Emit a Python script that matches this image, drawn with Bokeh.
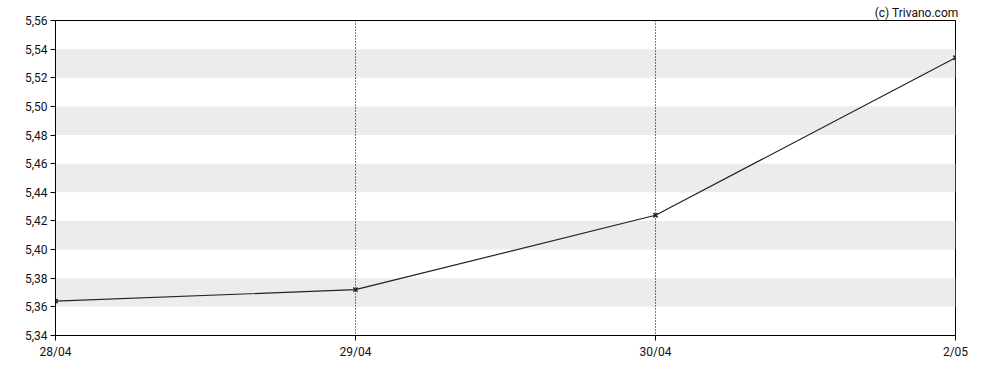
from bokeh.plotting import figure
from bokeh.models import FixedTicker, CustomJSTickFormatter, BoxAnnotation, Span
from bokeh.embed import file_html
from bokeh.resources import INLINE

dates = ["28/04", "29/04", "30/04", "2/05"]
prices = [5.364, 5.372, 5.424, 5.534]
y_ticks = [5.34, 5.36, 5.38, 5.40, 5.42, 5.44, 5.46, 5.48, 5.50, 5.52, 5.54, 5.56]
credit = "(c) Trivano.com"

xs = list(range(len(dates)))

p = figure(width=988, height=370, output_backend="svg", toolbar_location=None,
           x_range=(xs[0], xs[-1]), y_range=(y_ticks[0], y_ticks[-1]),
           min_border_left=55, min_border_right=33, min_border_top=20, min_border_bottom=35,
           title=credit)
p.background_fill_color = "white"
p.border_fill_color = "white"
p.outline_line_color = "black"
p.outline_line_width = 1

p.title.align = "right"
p.title.text_font = "Roboto"
p.title.text_font_style = "normal"
p.title.text_font_size = "12px"
p.title.text_color = "#111111"
p.title.standoff = 2
p.title.offset = -3

# alternating bands
for i in range(1, len(y_ticks) - 1, 2):
    p.add_layout(BoxAnnotation(bottom=y_ticks[i], top=y_ticks[i + 1],
                               fill_color="#ececec", fill_alpha=1, line_alpha=0, level="underlay"))

p.xgrid.grid_line_color = None
p.ygrid.grid_line_color = None
for x in xs[1:-1]:
    p.add_layout(Span(location=x, dimension="height", line_color="black",
                      line_dash="1 2", line_width=1, level="underlay"))

p.line(xs, prices, line_color="#222222", line_width=1.2)
p.scatter(xs, prices, marker="x", size=6, line_color="#222222", line_width=1.5)

font = "Roboto"
p.xaxis.ticker = FixedTicker(ticks=xs)
p.xaxis.major_label_overrides = {i: d for i, d in enumerate(dates)}
p.yaxis.ticker = FixedTicker(ticks=y_ticks)
p.yaxis.formatter = CustomJSTickFormatter(code="return tick.toFixed(2).replace('.', ',');")
for ax in (p.xaxis[0], p.yaxis[0]):
    ax.axis_line_color = "black"
    ax.major_tick_line_color = "black"
    ax.major_tick_out = 5
    ax.major_tick_in = 0
    ax.minor_tick_line_color = None
    ax.major_label_text_font = font
    ax.major_label_text_font_size = "12px"
    ax.major_label_text_color = "#111111"
p.yaxis.major_label_standoff = 3
p.xaxis.major_label_standoff = 4

open("out.html", "w").write(file_html(p, INLINE))
